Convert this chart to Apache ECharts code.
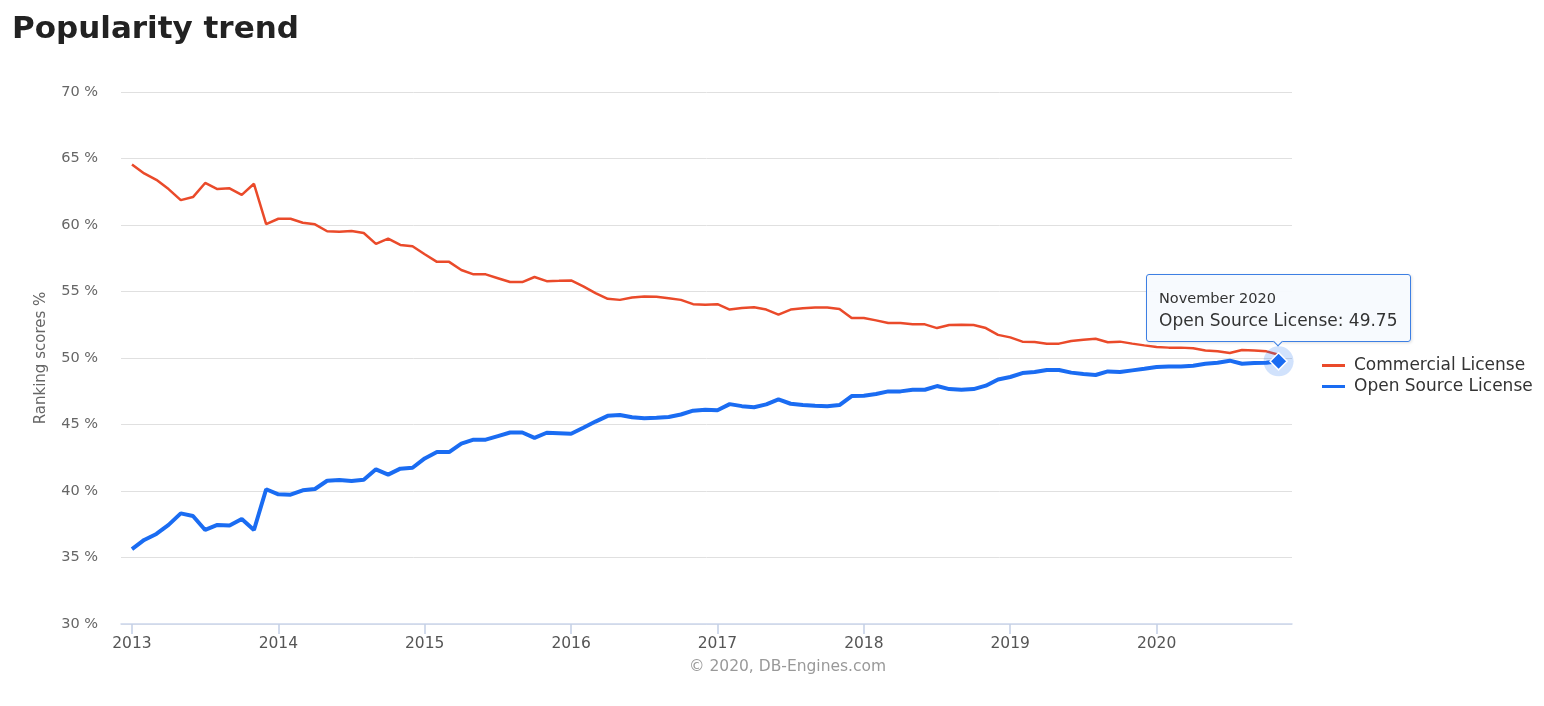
<!DOCTYPE html>
<html>
<head>
<meta charset="utf-8">
<script src="https://cdn.jsdelivr.net/npm/echarts@6/dist/echarts.min.js"></script>
<style>
html,body{margin:0;padding:0;background:#fff;}
#chart{width:1544px;height:706px;}
</style>
</head>
<body>
<div id="chart"></div>
<script>
// ---- data ----
var yearLabels = ['2013','2014','2015','2016','2017','2018','2019','2020'];
var monthNames = ['January','February','March','April','May','June','July','August','September','October','November','December'];
var seriesNames = ['Commercial License', 'Open Source License'];
var commercial = [
  64.55, 63.88, 63.40, 62.70, 61.87, 62.10, 63.16, 62.70, 62.76, 62.26, 63.10, 60.07,
  60.47, 60.47, 60.17, 60.05, 59.53, 59.50, 59.55, 59.40, 58.58, 58.98, 58.50, 58.40,
  57.80, 57.23, 57.23, 56.62, 56.29, 56.29, 56.00, 55.71, 55.71, 56.09, 55.78, 55.80,
  55.83, 55.38, 54.88, 54.45, 54.37, 54.55, 54.62, 54.60, 54.50, 54.37, 54.05, 54.00,
  54.05, 53.64, 53.76, 53.81, 53.64, 53.26, 53.64, 53.74, 53.79, 53.79, 53.69, 53.00,
  53.00, 52.83, 52.63, 52.63, 52.53, 52.53, 52.25, 52.48, 52.50, 52.48, 52.25, 51.74,
  51.55, 51.23, 51.20, 51.08, 51.08, 51.28, 51.38, 51.45, 51.18, 51.23, 51.08, 50.95,
  50.83, 50.78, 50.78, 50.73, 50.57, 50.50, 50.38, 50.60, 50.57, 50.50, 50.25
];
var openSource = [
  35.63, 36.32, 36.77, 37.45, 38.32, 38.12, 37.07, 37.45, 37.40, 37.90, 37.07, 40.13,
  39.75, 39.72, 40.05, 40.15, 40.77, 40.82, 40.75, 40.85, 41.63, 41.23, 41.68, 41.75,
  42.45, 42.93, 42.93, 43.56, 43.86, 43.86, 44.13, 44.40, 44.40, 44.00, 44.38, 44.35,
  44.30, 44.75, 45.22, 45.65, 45.72, 45.55, 45.47, 45.50, 45.57, 45.75, 46.04, 46.10,
  46.07, 46.53, 46.38, 46.30, 46.51, 46.89, 46.56, 46.46, 46.41, 46.38, 46.46, 47.14,
  47.16, 47.29, 47.49, 47.49, 47.61, 47.61, 47.89, 47.66, 47.61, 47.66, 47.92, 48.39,
  48.57, 48.87, 48.95, 49.10, 49.10, 48.90, 48.80, 48.72, 48.99, 48.95, 49.07, 49.19,
  49.32, 49.37, 49.37, 49.42, 49.57, 49.65, 49.80, 49.57, 49.62, 49.65, 49.75
];
var yTicks = [30, 35, 40, 45, 50, 55, 60, 65, 70];

// ---- build ----
var months = [];
yearLabels.forEach(function (y) {
  monthNames.forEach(function (m) { months.push(m + ' ' + y); });
});
var yearTickIdx = yearLabels.map(function (y, i) { return i * 12; });
var lastIdx = openSource.length - 1;

var RED = '#ea4a2a', BLUE = '#1a6cf2';
var FONT = 'DejaVu Sans';

var commData = commercial.map(function (v, i) { return [i, v]; });
var openData = openSource.map(function (v, i) {
  if (i === lastIdx) {
    return { value: [i, v], symbol: 'diamond', symbolSize: 17,
      itemStyle: { color: BLUE, borderColor: '#fff', borderWidth: 1.5 } };
  }
  return [i, v];
});

var chart = echarts.init(document.getElementById('chart'));
chart.setOption({
  animation: false,
  textStyle: { fontFamily: FONT },
  title: {
    text: 'Popularity trend', left: 7, top: 9,
    textStyle: { fontFamily: FONT, fontSize: 31, fontWeight: 'bold', color: '#222' }
  },
  grid: { left: 121, right: 252, top: 92, bottom: 82, containLabel: false },
  legend: {
    orient: 'vertical', left: 1317, top: 352, itemGap: 4,
    itemWidth: 23, itemHeight: 3, icon: 'rect',
    data: seriesNames,
    textStyle: { fontFamily: FONT, fontSize: 17, color: '#333', padding: [0, 0, 0, 4] }
  },
  tooltip: {
    trigger: 'item', triggerOn: 'none', alwaysShowContent: true,
    position: 'top',
    backgroundColor: 'rgba(247,250,254,0.97)', borderColor: '#3d7fe3', borderWidth: 1,
    padding: [13, 12, 8, 12],
    extraCssText: 'border-radius:3px;box-shadow:1px 1px 3px rgba(0,0,0,0.12);',
    formatter: function (p) {
      var idx = p.value[0];
      return '<div style="font-family:' + FONT + ';font-size:14.5px;color:#333;line-height:20px">' + months[idx] + '</div>' +
        '<div style="font-family:' + FONT + ';font-size:17px;color:#333;line-height:25px">' + p.seriesName + ': ' + p.value[1].toFixed(2) + '</div>';
    }
  },
  xAxis: {
    type: 'value', min: -0.9, max: 95.1,
    axisLine: { show: true, lineStyle: { color: '#ccd6eb', width: 1.5 } },
    axisTick: { show: true, length: 10, lineStyle: { color: '#c4d0e6', width: 1.5 }, customValues: yearTickIdx },
    axisLabel: {
      customValues: yearTickIdx, margin: 12,
      fontFamily: FONT, fontSize: 15.5, color: '#555',
      formatter: function (v) { return yearLabels[Math.round(v / 12)]; }
    },
    splitLine: { show: false }
  },
  yAxis: {
    type: 'value', min: yTicks[0], max: yTicks[yTicks.length - 1], interval: 5,
    name: 'Ranking scores %', nameLocation: 'middle', nameGap: 72,
    nameTextStyle: { fontFamily: FONT, fontSize: 15, color: '#666' },
    axisLine: { show: false }, axisTick: { show: false },
    axisLabel: { margin: 23, fontFamily: FONT, fontSize: 14.5, color: '#666', formatter: '{value} %' },
    splitLine: { lineStyle: { color: '#e0e0e0', width: 1 } }
  },
  graphic: [{
    type: 'text', left: 689, top: 659,
    style: { text: '\u00a9 2020, DB-Engines.com', fontFamily: FONT, fontSize: 15.5, fill: '#999' }
  }],
  series: [
    {
      name: seriesNames[0], type: 'line', data: commData, color: RED,
      symbol: 'none', lineStyle: { color: RED, width: 2.5 }, z: 2, silent: true
    },
    {
      name: 'halo', type: 'scatter', data: [[lastIdx, openSource[lastIdx]]],
      symbol: 'circle', symbolSize: 30, silent: true, z: 3,
      itemStyle: { color: 'rgba(26,108,242,0.25)' }, tooltip: { show: false }
    },
    {
      name: seriesNames[1], type: 'line', data: openData, color: BLUE,
      showSymbol: true, symbol: 'none', lineStyle: { color: BLUE, width: 4 }, z: 4
    }
  ]
});
setTimeout(function () {
  chart.dispatchAction({ type: 'showTip', seriesIndex: 2, dataIndex: lastIdx });
}, 50);
</script>
</body>
</html>
